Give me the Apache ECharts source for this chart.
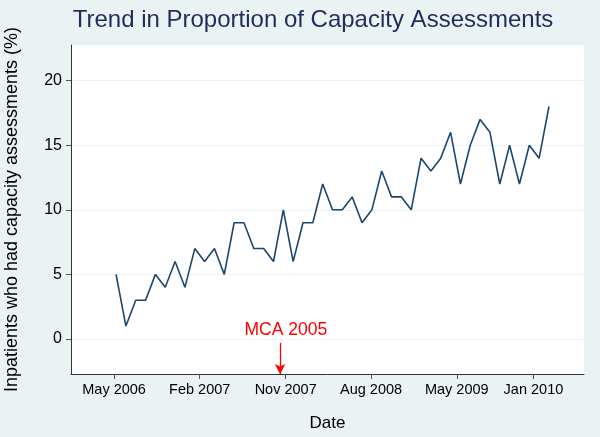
<!DOCTYPE html>
<html>
<head>
<meta charset="utf-8">
<script src="https://cdn.jsdelivr.net/npm/echarts@6/dist/echarts.min.js"></script>
<style>
	html, body { margin: 0; padding: 0; background: #eaf2f3; }
	#chart { width: 600px; height: 437px; }
</style>
</head>
<body>
<div id="chart"></div>
<script>
// monthly proportions, one point per month starting May 2006
var values = [5, 1, 3, 3, 5, 4, 6, 4, 7, 6, 7, 5, 9, 9, 7, 7, 6, 10, 6, 9,
	9, 12, 10, 10, 11, 9, 10, 13, 11, 11, 10, 14, 13, 14, 16, 12, 15, 17, 16, 12,
	15, 12, 15, 14, 18];
// where the date labels sit along the x axis (in point index units)
var tickPos = [-0.2, 8.5, 17.24, 25.92, 34.63, 42.42];
var tickLabels = ['May 2006', 'Feb 2007', 'Nov 2007', 'Aug 2008', 'May 2009', 'Jan 2010'];
var yTicks = [0, 5, 10, 15, 20];
// MCA 2005 marker
var mcaX = 16.67;
var mcaTextX = 17.25;

var font = '"Liberation Sans", Arial, sans-serif';
var chart = echarts.init(document.getElementById('chart'));

var option = {
	backgroundColor: '#eaf2f3',
	animation: false,
	title: {
		text: 'Trend in Proportion of Capacity Assessments',
		left: 308,
		textAlign: 'center',
		top: 3,
		textStyle: { color: '#1e2d5c', fontSize: 24, fontWeight: 'normal', fontFamily: font }
	},
	grid: {
		left: 71, right: 16, top: 45, bottom: 63,
		outerBoundsMode: 'none', containLabel: false,
		backgroundColor: '#ffffff', show: true, borderWidth: 0
	},
	xAxis: {
		type: 'value',
		min: -4.58,
		max: 47.56,
		name: 'Date',
		nameLocation: 'middle',
		nameGap: 41,
		nameTextStyle: { color: '#000', fontSize: 17, fontFamily: font },
		axisLine: { show: true, onZero: false, lineStyle: { color: '#333', width: 1 } },
		axisTick: { show: true, customValues: tickPos, length: 5, lineStyle: { color: '#555' } },
		axisLabel: {
			customValues: tickPos,
			color: '#000',
			fontSize: 14.5,
			fontFamily: font,
			margin: 8,
			formatter: function (v) {
				for (var i = 0; i < tickPos.length; i++) {
					if (Math.abs(tickPos[i] - v) < 0.01) return tickLabels[i];
				}
				return '';
			}
		},
		splitLine: { show: false }
	},
	yAxis: {
		type: 'value',
		min: -2.71,
		max: 22.76,
		name: 'Inpatients who had capacity assessments (%)',
		nameLocation: 'middle',
		nameGap: 50,
		nameTextStyle: { color: '#000', fontSize: 18, fontFamily: font },
		axisLine: { show: true, onZero: false, lineStyle: { color: '#333', width: 1 } },
		axisTick: { show: true, customValues: yTicks, length: 5, lineStyle: { color: '#555' } },
		axisLabel: { customValues: yTicks, color: '#000', fontSize: 16, fontFamily: font, margin: 9 },
		splitLine: { show: true, lineStyle: { color: '#eaf2f3', width: 1 } }
	},
	series: [{
		type: 'line',
		data: values.map(function (v, i) { return [i, v]; }),
		showSymbol: false,
		lineStyle: { color: '#1a476f', width: 1.6 },
		markLine: {
			silent: true,
			symbol: ['none', 'arrow'],
			symbolSize: [8, 10],
			label: { show: false },
			lineStyle: { color: '#ff0000', width: 1.3, type: 'solid' },
			data: [[{ coord: [mcaX, -0.3] }, { coord: [mcaX, -2.71] }]]
		},
		markPoint: {
			silent: true,
			symbol: 'circle',
			symbolSize: 0,
			label: {
				show: true,
				formatter: 'MCA 2005',
				color: '#ff0000',
				fontSize: 17.5,
				fontFamily: font
			},
			data: [{ coord: [mcaTextX, 0.7] }]
		}
	}]
};
chart.setOption(option);
</script>
</body>
</html>
